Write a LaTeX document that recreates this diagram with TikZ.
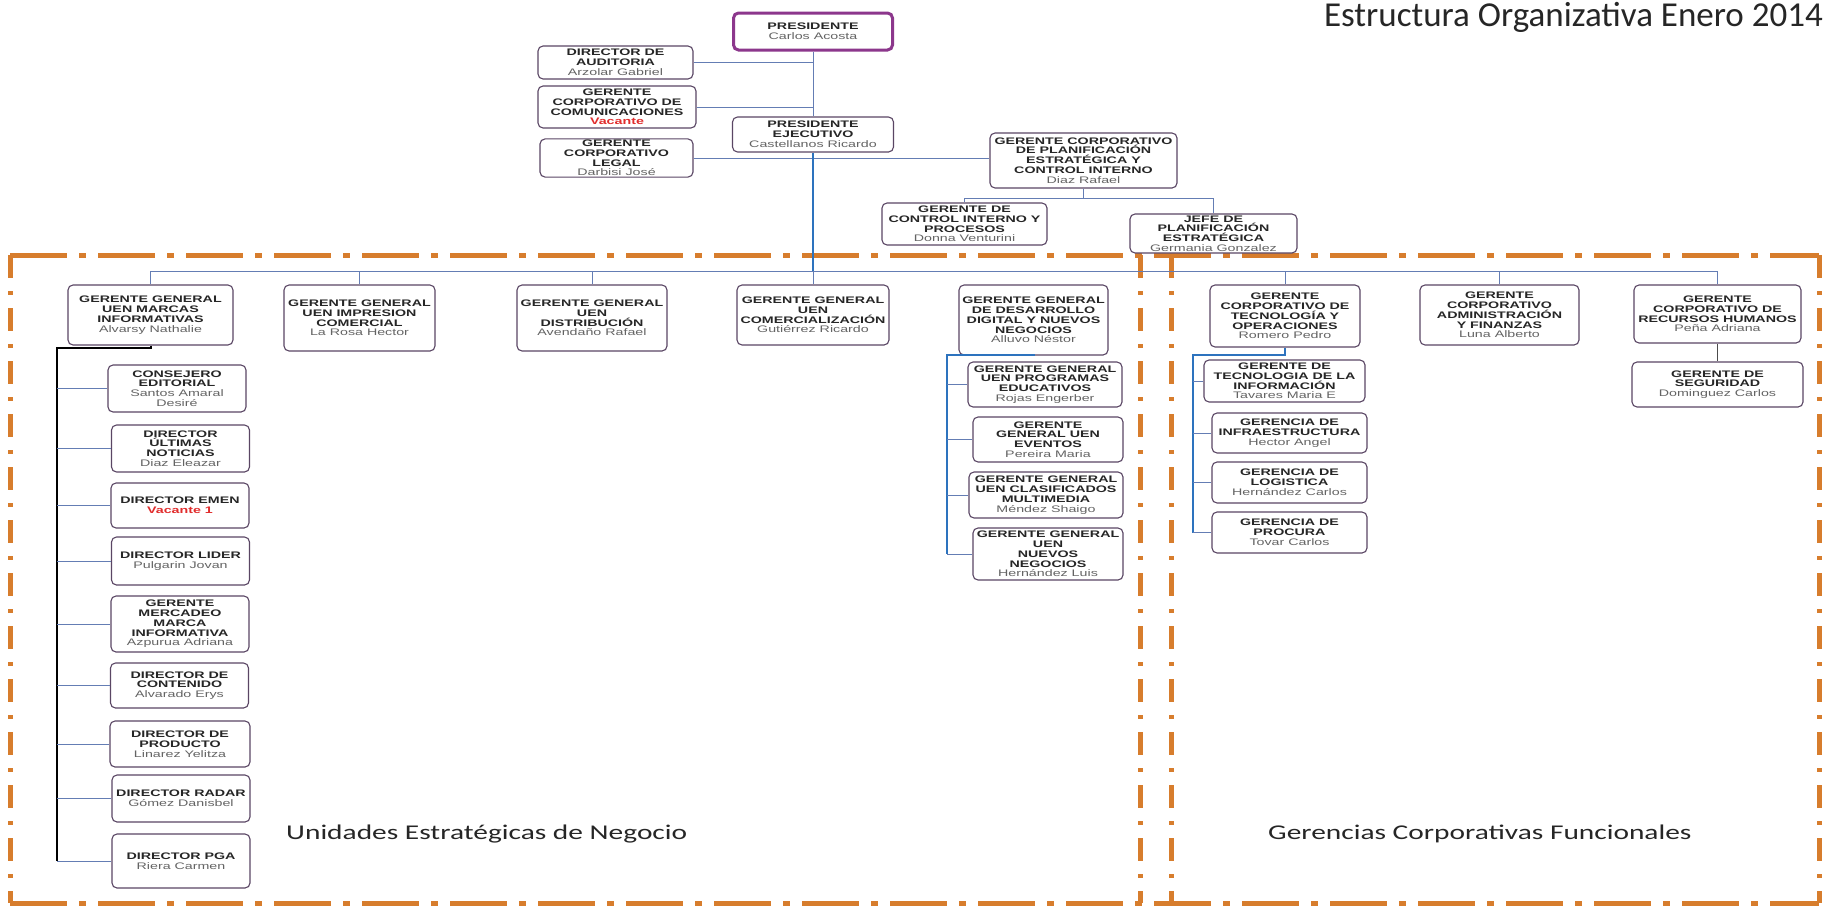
\documentclass[tikz,border=0pt]{standalone}
\usepackage{fontspec}
\newfontfamily\boxfont{Liberation Sans}[FakeStretch=1.5]
\newfontfamily\secfont{Carlito}[FakeStretch=1.4]
\newfontfamily\headfont{Carlito}
\definecolor{boxline}{RGB}{90,70,100}
\definecolor{presline}{RGB}{140,55,140}
\definecolor{namegray}{RGB}{100,100,100}
\definecolor{vacred}{RGB}{225,45,45}
\definecolor{linkblue}{RGB}{100,125,180}
\definecolor{spineblue}{RGB}{45,115,190}
\definecolor{fence}{RGB}{215,125,45}
\newcommand{\who}[1]{{\mdseries\color{namegray}#1}}
\newcommand{\vac}[1]{{\color{vacred}#1}}
\begin{document}
\begin{tikzpicture}[x=1pt,y=-1pt,
  unit/.style={shape=rectangle, rounded corners=5pt, draw=boxline, line width=1.1pt,
    fill=white, align=center, inner sep=1pt, text=black!85,
    font=\boxfont\bfseries\fontsize{9.5}{9.8}\selectfont},
  sz/.style 2 args={minimum width=#1, minimum height=#2},
  link/.style={draw=linkblue, line width=1pt},
  trunk/.style={draw=spineblue, line width=2.5pt},
  fenceh/.style={draw=fence, line width=5pt, dash pattern=on 57pt off 12pt on 7pt off 12pt},
  fencev/.style={draw=fence, line width=5pt, dash pattern=on 23pt off 13pt on 4pt off 13pt}]
\fill[white] (0,0) rectangle (1823,908);
\useasboundingbox (0,0) rectangle (1823,908);
\draw[fenceh] (10,255) -- (1819,255);
\draw[fenceh] (10,903) -- (1819,903);
\draw[fencev] (10,255) -- (10,903);
\draw[fencev] (1140,255) -- (1140,903);
\draw[fencev] (1171,255) -- (1171,903);
\draw[fencev] (1819,255) -- (1819,903);
\node[anchor=base east, inner sep=0, text=black!85, font=\headfont\fontsize{35}{40}\selectfont] (titulo) at (1823,26) {Estructura Organizativa Enero 2014};
\node[anchor=base west, inner sep=0, text=black!85, font=\secfont\fontsize{21}{24}\selectfont] (uen) at (286,839) {Unidades Estratégicas de Negocio};
\node[anchor=base west, inner sep=0, text=black!85, font=\secfont\fontsize{21}{24}\selectfont] (gcf) at (1268,839) {Gerencias Corporativas Funcionales};
\node[unit, sz={159}{37}, draw=presline, line width=3pt] (n) at (813,31.5) {PRESIDENTE\\\who{Carlos Acosta}};
\node[unit, sz={155}{33}] (n0) at (615.5,62.5) {DIRECTOR DE\\AUDITORIA\\\who{Arzolar Gabriel}};
\node[unit, sz={158}{42}] (n1) at (617,107) {GERENTE\\CORPORATIVO DE\\COMUNICACIONES\\\vac{Vacante}};
\node[unit, sz={161}{35}] (n2) at (813,134.5) {PRESIDENTE\\EJECUTIVO\\\who{Castellanos Ricardo}};
\node[unit, sz={153}{38}] (n20) at (616.5,158) {GERENTE\\CORPORATIVO\\LEGAL\\\who{Darbisi José}};
\node[unit, sz={187}{55}] (n21) at (1083.5,160.5) {GERENTE CORPORATIVO\\DE PLANIFICACIÓN\\ESTRATÉGICA Y\\CONTROL INTERNO\\\who{Diaz Rafael}};
\node[unit, sz={165}{42}] (n210) at (964.5,224) {GERENTE DE\\CONTROL INTERNO Y\\PROCESOS\\\who{Donna Venturini}};
\node[unit, sz={167}{39}] (n211) at (1213.5,233.5) {JEFE DE\\PLANIFICACIÓN\\ESTRATÉGICA\\\who{Germania Gonzalez}};
\node[unit, sz={165}{60}] (n22) at (150.5,315) {GERENTE GENERAL\\UEN MARCAS\\INFORMATIVAS\\\who{Alvarsy Nathalie}};
\node[unit, sz={151}{66}] (n23) at (359.5,318) {GERENTE GENERAL\\UEN IMPRESION\\COMERCIAL\\\who{La Rosa Hector}};
\node[unit, sz={150}{66}] (n24) at (592,318) {GERENTE GENERAL\\UEN\\DISTRIBUCIÓN\\\who{Avendaño Rafael}};
\node[unit, sz={152}{60}] (n25) at (813,315) {GERENTE GENERAL\\UEN\\COMERCIALIZACIÓN\\\who{Gutiérrez Ricardo}};
\node[unit, sz={149}{70}] (n26) at (1033.5,320) {GERENTE GENERAL\\DE DESARROLLO\\DIGITAL Y NUEVOS\\NEGOCIOS\\\who{Alluvo Néstor}};
\node[unit, sz={150}{62}] (n27) at (1285,316) {GERENTE\\CORPORATIVO DE\\TECNOLOGÍA Y\\OPERACIONES\\\who{Romero Pedro}};
\node[unit, sz={159}{60}] (n28) at (1499.5,315) {GERENTE\\CORPORATIVO\\ADMINISTRACIÓN\\Y FINANZAS\\\who{Luna Alberto}};
\node[unit, sz={167}{58}] (n29) at (1717.5,314) {GERENTE\\CORPORATIVO DE\\RECURSOS HUMANOS\\\who{Peña Adriana}};
\node[unit, sz={138}{47}] (n220) at (177,388.5) {CONSEJERO\\EDITORIAL\\\who{Santos Amaral}\\\who{Desiré}};
\node[unit, sz={138}{47}] (n221) at (180.5,448.5) {DIRECTOR\\ÚLTIMAS\\NOTICIAS\\\who{Diaz Eleazar}};
\node[unit, sz={138}{45}] (n222) at (180,505.5) {DIRECTOR EMEN\\\vac{Vacante 1}};
\node[unit, sz={138}{48}] (n223) at (180.5,561) {DIRECTOR LIDER\\\who{Pulgarin Jovan}};
\node[unit, sz={138}{56}] (n224) at (180,624) {GERENTE\\MERCADEO\\MARCA\\INFORMATIVA\\\who{Azpurua Adriana}};
\node[unit, sz={138}{45}] (n225) at (179.5,685.5) {DIRECTOR DE\\CONTENIDO\\\who{Alvarado Erys}};
\node[unit, sz={140}{46}] (n226) at (180,744) {DIRECTOR DE\\PRODUCTO\\\who{Linarez Yelitza}};
\node[unit, sz={138}{47}] (n227) at (181,798.5) {DIRECTOR RADAR\\\who{Gómez Danisbel}};
\node[unit, sz={138}{54}] (n228) at (181,861) {DIRECTOR PGA\\\who{Riera Carmen}};
\node[unit, sz={154}{45}] (n260) at (1045,384.5) {GERENTE GENERAL\\UEN PROGRAMAS\\EDUCATIVOS\\\who{Rojas Engerber}};
\node[unit, sz={150}{45}] (n261) at (1048,439.5) {GERENTE\\GENERAL UEN\\EVENTOS\\\who{Pereira Maria}};
\node[unit, sz={154}{46}] (n262) at (1046,495) {GERENTE GENERAL\\UEN CLASIFICADOS\\MULTIMEDIA\\\who{Méndez Shaigo}};
\node[unit, sz={150}{52}] (n263) at (1048,554) {GERENTE GENERAL\\UEN\\NUEVOS\\NEGOCIOS\\\who{Hernández Luis}};
\node[unit, sz={161}{42}] (n270) at (1284.5,381) {GERENTE DE\\TECNOLOGIA DE LA\\INFORMACIÓN\\\who{Tavares Maria E}};
\node[unit, sz={155}{40}] (n271) at (1289.5,433) {GERENCIA DE\\INFRAESTRUCTURA\\\who{Hector Angel}};
\node[unit, sz={155}{41}] (n272) at (1289.5,482.5) {GERENCIA DE\\LOGISTICA\\\who{Hernández Carlos}};
\node[unit, sz={155}{41}] (n273) at (1289.5,532.5) {GERENCIA DE\\PROCURA\\\who{Tovar Carlos}};
\node[unit, sz={171}{45}] (n290) at (1717.5,384.5) {GERENTE DE\\SEGURIDAD\\\who{Dominguez Carlos}};
\coordinate (bar) at (0,271);
\coordinate (pbar) at (0,198);
\coordinate (m) at (57,348);
\coordinate (d) at (947,355);
\coordinate (t) at (1193,355);
\draw[link] (n) -- (n2);
\draw[link] (n0) -- (n0 -| n);
\draw[link] (n1) -- (n1 -| n);
\draw[link] (n20.east) -- (n20.east -| n21.west);
\draw[trunk] (n2) -- (n2 |- bar);
\draw[link] (n21) -- (n21 |- pbar) -| (n210);
\draw[link] (n21 |- pbar) -| (n211);
\draw[link] (n22 |- bar) -- (n29 |- bar);
\draw[link] (n22 |- bar) -- (n22);
\draw[link] (n23 |- bar) -- (n23);
\draw[link] (n24 |- bar) -- (n24);
\draw[link] (n25 |- bar) -- (n25);
\draw[link] (n27 |- bar) -- (n27);
\draw[link] (n28 |- bar) -- (n28);
\draw[link] (n29 |- bar) -- (n29);
\draw[black, line width=2pt] (n22) |- (m) -- (m |- n228);
\draw[link] (m |- n220) -- (n220);
\draw[link] (m |- n221) -- (n221);
\draw[link] (m |- n222) -- (n222);
\draw[link] (m |- n223) -- (n223);
\draw[link] (m |- n224) -- (n224);
\draw[link] (m |- n225) -- (n225);
\draw[link] (m |- n226) -- (n226);
\draw[link] (m |- n227) -- (n227);
\draw[link] (m |- n228) -- (n228);
\draw[trunk, line width=2pt] (n26) |- (d) -- (d |- n263);
\draw[link] (d |- n260) -- (n260);
\draw[link] (d |- n261) -- (n261);
\draw[link] (d |- n262) -- (n262);
\draw[link] (d |- n263) -- (n263);
\draw[trunk, line width=2pt] (n27) |- (t) -- (t |- n273);
\draw[link] (t |- n270) -- (n270);
\draw[link] (t |- n271) -- (n271);
\draw[link] (t |- n272) -- (n272);
\draw[link] (t |- n273) -- (n273);
\draw[black!70, line width=1.2pt] (n29) -- (n290);
\end{tikzpicture}
\end{document}
